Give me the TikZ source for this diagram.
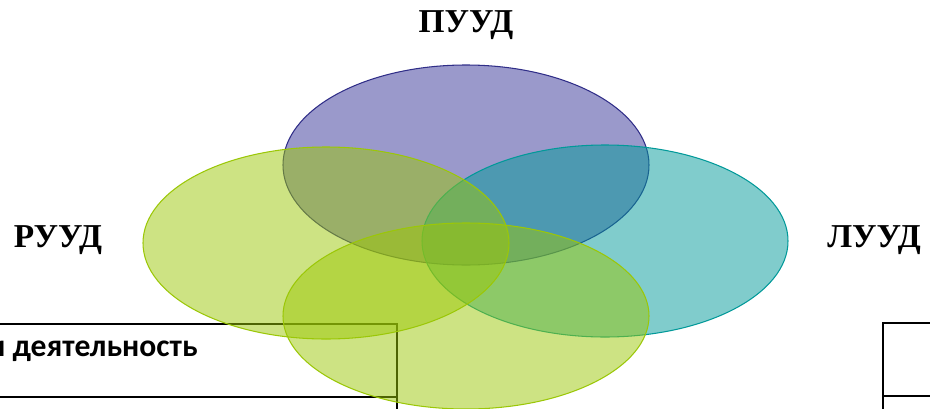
\documentclass[tikz,border=0pt]{standalone}
\usepackage{fontspec}
\setmainfont{Liberation Serif}
\newfontfamily\tablefont{Carlito}
\usetikzlibrary{shapes.geometric}
\definecolor{puud}{RGB}{53,51,151}
\definecolor{luud}{RGB}{1,153,153}
\definecolor{ruud}{RGB}{155,199,7}

\begin{document}
\begin{tikzpicture}[x=0.02cm,y=-0.02cm,
  uud/.style={ellipse,inner sep=0pt,line width=0.6pt,fill opacity=0.5,minimum width=366*0.02cm,minimum height=192*0.02cm},
  lbl/.style={font=\fontsize{19}{22}\selectfont\bfseries}]
\useasboundingbox (0,0) rectangle (930,409);
% table lines behind the circles
\draw[line width=1.2pt] (-5,324) -- (397,324) -- (397,415);
\draw[line width=1.2pt] (-5,397) -- (397,397);
\draw[line width=1.2pt] (883,415) -- (883,323) -- (935,323);
\draw[line width=1.2pt] (883,396) -- (935,396);
\node[anchor=base east,inner sep=0pt,font=\tablefont\fontsize{18}{21}\selectfont\bfseries] (act) at (198,356) {и деятельность};
% circles
\node[uud,draw=puud!90!black,fill=puud,minimum height=200*0.02cm] (top) at (466,165) {};
\node[uud,draw=luud,fill=luud] (right) at (605,241) {};
\node[uud,draw=ruud,fill=ruud] (left) at (326,243) {};
\node[uud,draw=ruud,fill=ruud,minimum height=186*0.02cm] (bottom) at (466,316) {};
% labels
\node[lbl] (p) at (466,25) {ПУУД};
\node[lbl] (r) at (58,240) {РУУД};
\node[lbl] (l) at (874,240) {ЛУУД};
\end{tikzpicture}
\end{document}
